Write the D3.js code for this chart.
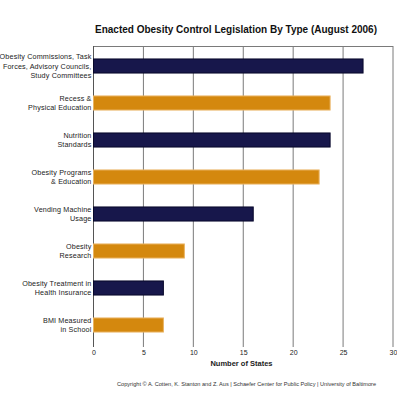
<!DOCTYPE html>
<html>
<head>
<meta charset="utf-8">
<script src="https://cdn.jsdelivr.net/npm/d3@7"></script>
<style>
  body { margin: 0; background: #fff; }
  svg { display: block; font-family: 'Liberation Sans', Arial, sans-serif; }
</style>
</head>
<body>
<svg id="chart" width="397" height="400"></svg>
<script>
// enacted legislation, number of states per type
const categories = [
  'Obesity Commissions, Task\nForces, Advisory Councils,\nStudy Committees',
  'Recess &\nPhysical Education',
  'Nutrition\nStandards',
  'Obesity Programs\n& Education',
  'Vending Machine\nUsage',
  'Obesity\nResearch',
  'Obesity Treatment in\nHealth Insurance',
  'BMI Measured\nin School'
]
const states = [27, 23.7, 23.7, 22.6, 16, 9.1, 7, 7]
const xTicks = [0, 5, 10, 15, 20, 25, 30]
const barColors = ['#17174b', '#d4880e']
const barStrokes = ['#07072a', '#e9b362']

const svg = d3.select('#chart')

const x = d3.scaleLinear()
  .domain([0, 30])
  .range([93.5, 393])

const y = d3.scaleBand()
  .domain(categories)
  .range([47.5, 343.5])
  .paddingInner(0.62)
  .paddingOuter(0.31)

const plotTop = 46, plotBottom = 347

// gridlines
svg.append('g')
  .selectAll('line')
  .data(xTicks.slice(1))
  .enter().append('line')
  .attr('x1', d => x(d)).attr('x2', d => x(d))
  .attr('y1', plotTop).attr('y2', plotBottom)
  .attr('stroke', '#7a7a7a')
  .attr('stroke-width', 1)

// top border
svg.append('line')
  .attr('x1', x(0)).attr('x2', x(30))
  .attr('y1', plotTop + 0.5).attr('y2', plotTop + 0.5)
  .attr('stroke', '#7a7a7a')

// left axis line
svg.append('line')
  .attr('x1', x(0)).attr('x2', x(0))
  .attr('y1', plotTop).attr('y2', plotBottom)
  .attr('stroke', '#555')

// bars
svg.append('g')
  .selectAll('rect')
  .data(states)
  .enter().append('rect')
  .attr('x', x(0))
  .attr('y', (d, i) => y(categories[i]))
  .attr('width', d => x(d) - x(0))
  .attr('height', y.bandwidth())
  .attr('fill', (d, i) => barColors[i % 2])
  .attr('stroke', (d, i) => barStrokes[i % 2])
  .attr('stroke-width', 1)

// category labels
const labels = svg.append('g')
  .selectAll('text')
  .data(categories)
  .enter().append('text')
  .attr('text-anchor', 'end')
  .attr('font-size', 7.2)
  .attr('letter-spacing', 0.15)
  .attr('fill', '#222')

labels.each(function(d) {
  const lines = d.split('\n')
  const cy = y(d) + y.bandwidth() / 2
  const lh = 9.2
  const start = cy - (lines.length - 1) * lh / 2 + 2.5
  d3.select(this).selectAll('tspan')
    .data(lines)
    .enter().append('tspan')
    .attr('x', 91.5)
    .attr('y', (l, i) => start + i * lh)
    .text(l => l)
})

// x axis tick labels
svg.append('g')
  .attr('transform', 'translate(0,' + plotBottom + ')')
  .call(d3.axisBottom(x).tickValues(xTicks).tickSize(0).tickPadding(3))
  .call(g => g.select('.domain').remove())
  .selectAll('text')
  .attr('font-size', 7)
  .attr('font-family', 'Liberation Sans, Arial, sans-serif')
  .attr('fill', '#222')

svg.append('text')
  .attr('x', 241.5)
  .attr('y', 366)
  .attr('text-anchor', 'middle')
  .attr('font-size', 7.5)
  .attr('font-weight', 'bold')
  .attr('fill', '#222')
  .text('Number of States')

// title
svg.append('text')
  .attr('x', 95)
  .attr('y', 33)
  .attr('font-size', 10)
  .attr('font-weight', 'bold')
  .attr('textLength', 282)
  .attr('lengthAdjust', 'spacingAndGlyphs')
  .attr('fill', '#111')
  .text('Enacted Obesity Control Legislation By Type (August 2006)')

// copyright line
svg.append('text')
  .attr('x', 117)
  .attr('y', 386)
  .attr('font-size', 5)
  .attr('textLength', 259)
  .attr('lengthAdjust', 'spacingAndGlyphs')
  .attr('fill', '#333')
  .text('Copyright \u00a9 A. Cotten, K. Stanton and Z. Aus | Schaefer Center for Public Policy | University of Baltimore')
</script>
</body>
</html>
